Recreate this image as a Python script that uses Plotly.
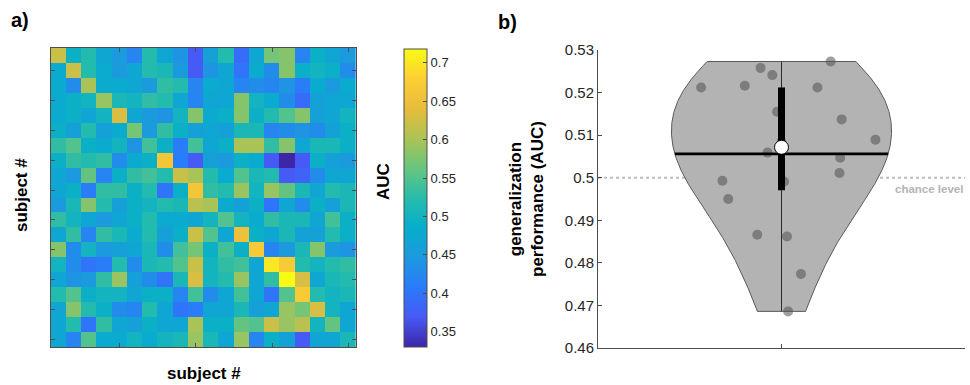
import numpy as np
import plotly.graph_objects as go

# ---------------- data: panel a (cross-subject AUC matrix, 20 x 20) ----------------
subjects = list(range(1, 21))
s01 = [0.62,0.49,0.52,0.47,0.45,0.42,0.52,0.47,0.44,0.37,0.46,0.52,0.39,0.47,0.57,0.58,0.42,0.49,0.47,0.45]
s02 = [0.48,0.62,0.52,0.48,0.45,0.47,0.52,0.51,0.45,0.37,0.44,0.47,0.40,0.48,0.43,0.58,0.49,0.50,0.49,0.43]
s03 = [0.48,0.43,0.60,0.48,0.48,0.47,0.45,0.53,0.52,0.42,0.48,0.47,0.42,0.43,0.42,0.44,0.41,0.48,0.45,0.48]
s04 = [0.48,0.49,0.50,0.59,0.51,0.50,0.53,0.52,0.47,0.42,0.47,0.47,0.58,0.50,0.48,0.43,0.39,0.46,0.47,0.47]
s05 = [0.48,0.49,0.47,0.50,0.63,0.47,0.45,0.44,0.50,0.58,0.48,0.49,0.58,0.49,0.52,0.55,0.58,0.46,0.47,0.50]
s06 = [0.49,0.46,0.52,0.46,0.48,0.57,0.45,0.53,0.49,0.46,0.47,0.46,0.51,0.51,0.42,0.43,0.44,0.43,0.46,0.49]
s07 = [0.53,0.55,0.49,0.48,0.50,0.44,0.54,0.49,0.41,0.54,0.47,0.49,0.60,0.60,0.53,0.58,0.47,0.51,0.51,0.49]
s08 = [0.49,0.53,0.52,0.53,0.43,0.48,0.49,0.66,0.41,0.37,0.46,0.45,0.49,0.48,0.37,0.33,0.37,0.49,0.46,0.45]
s09 = [0.47,0.45,0.56,0.42,0.49,0.53,0.54,0.52,0.62,0.60,0.52,0.48,0.55,0.51,0.52,0.37,0.38,0.43,0.47,0.47]
s10 = [0.47,0.49,0.41,0.53,0.53,0.49,0.52,0.40,0.49,0.66,0.53,0.52,0.59,0.50,0.59,0.56,0.51,0.47,0.52,0.51]
s11 = [0.45,0.51,0.58,0.52,0.46,0.49,0.50,0.52,0.51,0.61,0.60,0.48,0.46,0.49,0.40,0.47,0.43,0.49,0.46,0.51]
s12 = [0.53,0.50,0.47,0.45,0.47,0.49,0.52,0.48,0.48,0.47,0.50,0.55,0.50,0.48,0.53,0.51,0.51,0.47,0.54,0.49]
s13 = [0.47,0.53,0.42,0.53,0.51,0.48,0.52,0.46,0.49,0.62,0.55,0.47,0.65,0.49,0.47,0.51,0.46,0.46,0.52,0.49]
s14 = [0.58,0.43,0.50,0.45,0.46,0.47,0.51,0.43,0.54,0.57,0.49,0.54,0.49,0.67,0.42,0.45,0.51,0.58,0.45,0.44]
s15 = [0.50,0.43,0.40,0.41,0.52,0.43,0.51,0.52,0.55,0.62,0.50,0.53,0.54,0.47,0.70,0.67,0.52,0.50,0.52,0.53]
s16 = [0.47,0.44,0.45,0.53,0.59,0.46,0.43,0.40,0.51,0.63,0.50,0.52,0.59,0.47,0.53,0.718,0.63,0.47,0.51,0.52]
s17 = [0.52,0.55,0.49,0.50,0.50,0.47,0.49,0.49,0.42,0.54,0.43,0.47,0.54,0.47,0.40,0.55,0.67,0.52,0.50,0.51]
s18 = [0.47,0.58,0.52,0.49,0.43,0.42,0.52,0.47,0.40,0.41,0.47,0.47,0.51,0.46,0.47,0.59,0.57,0.63,0.50,0.47]
s19 = [0.47,0.52,0.40,0.53,0.47,0.46,0.49,0.47,0.47,0.60,0.49,0.49,0.56,0.55,0.62,0.59,0.61,0.50,0.56,0.47]
s20 = [0.47,0.42,0.55,0.48,0.48,0.50,0.48,0.50,0.51,0.59,0.51,0.47,0.59,0.42,0.49,0.46,0.37,0.47,0.47,0.51]
auc_matrix = [s01, s02, s03, s04, s05, s06, s07, s08, s09, s10,
              s11, s12, s13, s14, s15, s16, s17, s18, s19, s20]

heat_xticks = [5, 10, 15, 20]
heat_yticks = [2, 4, 6, 8, 10, 12, 14, 16, 18, 20]
cbar_ticks = [0.35, 0.4, 0.45, 0.5, 0.55, 0.6, 0.65, 0.7]
cbar_ticktext = ["0.35", "0.4", "0.45", "0.5", "0.55", "0.6", "0.65", "0.7"]

# ---------------- data: panel b (generalization performance per subject) ----------------
gen_auc = [0.5212, 0.5216, 0.5258, 0.5241, 0.5155, 0.5059, 0.4991, 0.4993, 0.4950, 0.4866,
           0.4862, 0.4774, 0.4686, 0.5273, 0.5212, 0.5137, 0.5089, 0.5047, 0.5011, 0.5084]
gen_jitter = [-0.219, -0.100, -0.057, -0.025, -0.012, -0.038, 0.007, -0.161, -0.145, -0.066,
              0.015, 0.053, 0.018, 0.134, 0.098, 0.164, 0.256, 0.160, 0.158, 0.0]
chance = 0.5
b_yticks = [0.46, 0.47, 0.48, 0.49, 0.50, 0.51, 0.52, 0.53]
b_yticktext = ["0.46", "0.47", "0.48", "0.49", "0.5", "0.51", "0.52", "0.53"]

# ---------------- styling ----------------
W, H = 970, 385
FONT = "Arial, 'Liberation Sans', Helvetica, sans-serif"
AX = "#4d4d4d"

parula = [
    [0.00, "rgb(62,38,168)"],
    [0.10, "rgb(71,89,245)"],
    [0.20, "rgb(42,123,250)"],
    [0.30, "rgb(29,153,223)"],
    [0.40, "rgb(7,174,203)"],
    [0.50, "rgb(38,188,171)"],
    [0.60, "rgb(104,197,127)"],
    [0.70, "rgb(172,195,85)"],
    [0.80, "rgb(232,188,60)"],
    [0.90, "rgb(253,207,51)"],
    [1.00, "rgb(249,251,21)"],
]

def px_x(p):
    return p / W

def px_y(p):
    return 1 - p / H

fig = go.Figure()

z = np.array(auc_matrix)
fig.add_trace(go.Heatmap(
    z=z, x=subjects, y=subjects, colorscale=parula,
    zmin=float(z.min()), zmax=float(z.max()),
    xaxis="x", yaxis="y",
    colorbar=dict(
        x=px_x(404), xanchor="left", y=px_y(198), yanchor="middle",
        len=298, lenmode="pixels", thickness=23, thicknessmode="pixels",
        xpad=0, ypad=0, outlinewidth=1, outlinecolor=AX,
        ticks="inside", ticklen=4, tickcolor=AX,
        tickvals=cbar_ticks, ticktext=cbar_ticktext,
        tickfont=dict(family=FONT, size=13, color="#262626"),
    ),
    hoverinfo="skip",
))

# ---------------- panel b: violin ----------------
vals = np.array(gen_auc)
n = len(vals)
med = np.median(vals)
mad = np.median(np.abs(vals - med))
bw = mad / 0.6745 * (4 / (3 * n)) ** 0.2
grid = np.linspace(vals.min(), vals.max(), 300)

def kde(t):
    t = np.atleast_1d(t)
    return np.exp(-0.5 * ((t[:, None] - vals[None, :]) / bw) ** 2).sum(axis=1)

dens = kde(grid)
scale = 0.3 / dens.max()
half = dens * scale
vx = np.concatenate([1 - half, (1 + half)[::-1], [1 - half[0]]])
vy = np.concatenate([grid, grid[::-1], [grid[0]]])

# chance line
fig.add_trace(go.Scatter(x=[0.5, 1.5], y=[chance, chance], mode="lines",
                         line=dict(color="#bdbdbd", width=2, dash="dot"),
                         xaxis="x2", yaxis="y2", hoverinfo="skip", showlegend=False))
# violin body
fig.add_trace(go.Scatter(x=vx, y=vy, mode="lines", fill="toself",
                         fillcolor="rgb(179,179,179)",
                         line=dict(color="#5a5a5a", width=1),
                         xaxis="x2", yaxis="y2", hoverinfo="skip", showlegend=False))
# data points
fig.add_trace(go.Scatter(x=1 + np.array(gen_jitter), y=vals, mode="markers",
                         marker=dict(color="rgba(80,80,80,0.55)", size=10, line=dict(width=0)),
                         xaxis="x2", yaxis="y2", hoverinfo="skip", showlegend=False))
# whisker
fig.add_trace(go.Scatter(x=[1, 1], y=[vals.min(), vals.max()], mode="lines",
                         line=dict(color="#2b2b2b", width=1),
                         xaxis="x2", yaxis="y2", hoverinfo="skip", showlegend=False))
# IQR box
q1, q3 = np.quantile(vals, [0.25, 0.75], method="hazen")
fig.add_trace(go.Scatter(x=[1, 1], y=[q1, q3], mode="lines",
                         line=dict(color="black", width=7),
                         xaxis="x2", yaxis="y2", hoverinfo="skip", showlegend=False))
# mean line
mean = vals.mean()
mw = float(kde(mean)[0] * scale)
fig.add_trace(go.Scatter(x=[1 - mw, 1 + mw], y=[mean, mean], mode="lines",
                         line=dict(color="black", width=2.8),
                         xaxis="x2", yaxis="y2", hoverinfo="skip", showlegend=False))
# median
fig.add_trace(go.Scatter(x=[1], y=[med], mode="markers",
                         marker=dict(color="white", size=14, line=dict(color="black", width=1)),
                         xaxis="x2", yaxis="y2", hoverinfo="skip", showlegend=False))

axis_common = dict(showgrid=False, zeroline=False, showline=True, linecolor=AX, linewidth=1,
                   ticks="inside", tickcolor=AX, ticklen=4, automargin=False)

fig.update_layout(
    width=W, height=H,
    margin=dict(l=0, r=0, t=0, b=0, autoexpand=False),
    paper_bgcolor="white", plot_bgcolor="white",
    showlegend=False,
    font=dict(family=FONT, color="#262626"),
    xaxis=dict(domain=[px_x(50.7), px_x(356)], range=[0.5, 20.5], anchor="y",
               tickvals=heat_xticks, showticklabels=False, mirror="ticks", **axis_common),
    yaxis=dict(domain=[px_y(347), px_y(48)], range=[20.5, 0.5], anchor="x",
               tickvals=heat_yticks, showticklabels=False, mirror="ticks", **axis_common),
    xaxis2=dict(domain=[px_x(598), px_x(965)], range=[0.5, 1.5], anchor="y2",
                tickvals=[1], showticklabels=False, **axis_common),
    yaxis2=dict(domain=[px_y(348), px_y(50)], range=[0.46, 0.53], anchor="x2",
                tickvals=b_yticks, ticktext=b_yticktext,
                tickfont=dict(family=FONT, size=15, color="#262626"), **axis_common),
)

ann = [
    dict(text="<b>a)</b>", x=px_x(9), y=px_y(20), xanchor="left", yanchor="middle",
         font=dict(size=20, color="black")),
    dict(text="<b>b)</b>", x=px_x(496), y=px_y(22), xanchor="left", yanchor="middle",
         font=dict(size=20, color="black")),
    dict(text="<b>subject #</b>", x=px_x(204), y=px_y(373), xanchor="center", yanchor="middle",
         font=dict(size=17, color="black")),
    dict(text="<b>subject #</b>", x=px_x(22), y=px_y(195), xanchor="center", yanchor="middle",
         textangle=-90, font=dict(size=17, color="black")),
    dict(text="<b>AUC</b>", x=px_x(384), y=px_y(182), xanchor="center", yanchor="middle",
         textangle=-90, font=dict(size=17, color="black")),
    dict(text="<b>generalization<br>performance (AUC)</b>", x=px_x(527), y=px_y(199),
         xanchor="center", yanchor="middle", textangle=-90,
         font=dict(size=17, color="black")),
    dict(text="<b>chance level</b>", x=1.5, y=0.4973, xref="x2", yref="y2",
         xanchor="right", yanchor="middle", showarrow=False,
         font=dict(size=11.5, color="#b4b4b4")),
]
for a in ann:
    a.setdefault("xref", "paper")
    a.setdefault("yref", "paper")
    a["showarrow"] = False
    fig.add_annotation(**a)

fig.write_html(
    "out.html",
    config={"displayModeBar": False},
    post_script="document.body.style.margin='0';document.body.style.overflow='hidden';",
)
